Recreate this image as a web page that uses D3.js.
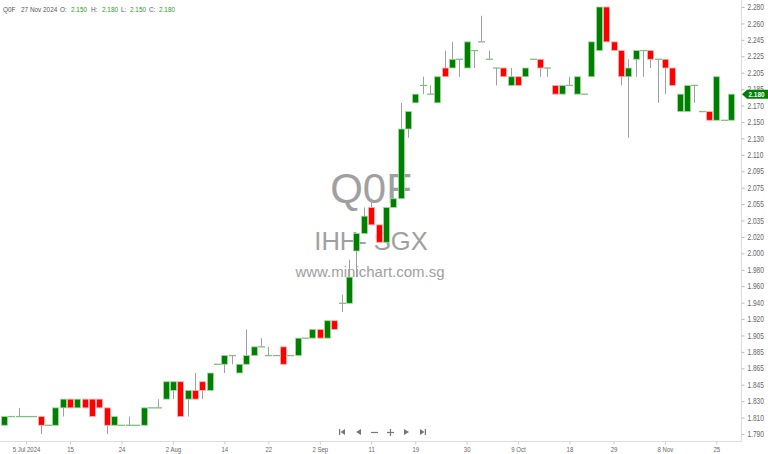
<!DOCTYPE html>
<html><head><meta charset="utf-8">
<script src="https://cdn.jsdelivr.net/npm/d3@7"></script>
<style>body{margin:0;background:#fff}svg{display:block}text{font-family:"Liberation Sans",Arial,sans-serif}</style>
</head><body><svg id="c" width="768" height="454"></svg>
<script>
const openV=[1.800,1.810,1.810,1.810,1.810,1.810,1.800,1.800,1.820,1.830,
1.820,1.830,1.830,1.830,1.820,1.800,1.800,1.800,1.800,1.800,
1.820,1.820,1.830,1.840,1.850,1.830,1.840,1.850,1.840,1.870,
1.870,1.880,1.860,1.870,1.880,1.890,1.880,1.880,1.890,1.880,
1.880,1.900,1.900,1.910,1.900,1.920,1.940,1.940,2.000,2.020,
2.050,2.030,2.010,2.050,2.060,2.140,2.170,2.190,2.180,2.170,
2.210,2.210,2.220,2.210,2.230,2.240,2.220,2.210,2.210,2.190,
2.200,2.200,2.220,2.220,2.210,2.190,2.180,2.190,2.180,2.180,
2.200,2.230,2.280,2.240,2.230,2.200,2.220,2.230,2.230,2.220,
2.220,2.210,2.160,2.160,2.190,2.160,2.160,2.150,2.150,2.150];
const closeV=[1.810,1.810,1.810,1.810,1.810,1.800,1.800,1.820,1.830,1.820,
1.830,1.820,1.810,1.820,1.800,1.810,1.800,1.800,1.800,1.820,
1.820,1.820,1.850,1.850,1.810,1.840,1.830,1.840,1.860,1.870,
1.880,1.880,1.870,1.880,1.890,1.890,1.880,1.880,1.870,1.880,
1.900,1.900,1.910,1.900,1.920,1.910,1.940,1.970,2.020,2.040,
2.030,2.010,2.050,2.060,2.140,2.160,2.180,2.190,2.180,2.200,
2.200,2.220,2.220,2.240,2.230,2.240,2.220,2.210,2.200,2.200,
2.190,2.210,2.220,2.210,2.210,2.180,2.190,2.190,2.200,2.180,
2.240,2.280,2.240,2.230,2.200,2.210,2.230,2.230,2.220,2.220,
2.210,2.190,2.180,2.190,2.190,2.160,2.150,2.200,2.150,2.180];
const highV=[1.810,1.810,1.820,1.810,1.810,1.810,1.800,1.820,1.830,1.830,
1.830,1.830,1.830,1.830,1.820,1.810,1.800,1.810,1.800,1.820,
1.820,1.830,1.850,1.850,1.850,1.840,1.860,1.850,1.860,1.870,
1.880,1.880,1.870,1.910,1.890,1.900,1.890,1.880,1.890,1.880,
1.900,1.900,1.910,1.910,1.920,1.920,1.950,1.990,2.020,2.050,
2.060,2.030,2.050,2.060,2.170,2.160,2.180,2.200,2.190,2.200,
2.230,2.240,2.220,2.240,2.230,2.270,2.230,2.210,2.210,2.210,
2.200,2.210,2.220,2.220,2.210,2.190,2.190,2.200,2.200,2.180,
2.240,2.280,2.280,2.240,2.230,2.220,2.230,2.230,2.230,2.220,
2.220,2.210,2.180,2.190,2.190,2.160,2.160,2.200,2.150,2.180];
const lowV=[1.800,1.810,1.810,1.810,1.810,1.790,1.800,1.800,1.810,1.820,
1.820,1.820,1.810,1.820,1.790,1.800,1.800,1.800,1.800,1.800,
1.820,1.820,1.830,1.830,1.810,1.810,1.830,1.830,1.840,1.870,
1.860,1.870,1.860,1.870,1.880,1.890,1.880,1.880,1.870,1.880,
1.880,1.900,1.900,1.900,1.900,1.910,1.930,1.940,1.970,2.020,
2.030,2.010,2.010,2.050,2.060,2.130,2.170,2.180,2.180,2.170,
2.200,2.210,2.200,2.210,2.210,2.240,2.220,2.190,2.200,2.190,
2.190,2.200,2.220,2.200,2.200,2.180,2.180,2.190,2.180,2.180,
2.200,2.230,2.240,2.230,2.190,2.130,2.200,2.200,2.210,2.170,
2.180,2.190,2.160,2.160,2.170,2.160,2.150,2.150,2.150,2.150];
const tickIdx=[3,9,16,23,30,36,43,50,56,63,70,77,83,90,97];
const tickLabels=["5 Jul 2024","15","24","2 Aug","14","22","2 Sep","11","19","30","9 Oct","18","29","8 Nov","25"];
const yLabels=["1.790","1.810","1.830","1.845","1.865","1.885","1.905","1.920","1.940","1.960","1.980","2.000","2.020","2.035","2.055","2.075","2.095","2.110","2.130","2.150","2.170","2.185","2.205","2.225","2.245","2.260","2.280"];
const header=[["Q0F","#555"],["27 Nov 2024","#555"],["O:","#555"],["2.150","#2a9a2a"],["H:","#555"],["2.180","#2a9a2a"],["L:","#555"],["2.150","#2a9a2a"],["C:","#555"],["2.180","#2a9a2a"]];
const headerX=[3,21,60,71,91,102,121,130,149,159];

const FF='"Liberation Sans",Arial,sans-serif';
function narrow(sel,f){sel.each(function(){const L=this.getComputedTextLength();d3.select(this).attr("textLength",L*f).attr("lengthAdjust","spacingAndGlyphs");});}

const svg=d3.select("#c");
const n=openV.length;
const x=d3.scaleLinear().domain([0,n-1]).range([4,731]);
const yMin=1.790,yMax=2.280;
const y=d3.scaleLinear().domain([yMin,yMax]).range([434,7]);
const data=openV.map((o,i)=>({i,o,c:closeV[i],h:highV[i],l:lowV[i]}));

// watermark
const wm=svg.append("g").attr("text-anchor","middle").attr("fill","#a0a0a0");
wm.append("text").attr("x",371).attr("y",203).attr("font-size",42).text("Q0F");
wm.append("text").attr("x",371).attr("y",250).attr("font-size",25.5).text("IHH- SGX");
wm.append("text").attr("x",370).attr("y",277).attr("font-size",15).text("www.minichart.com.sg");

// axes lines
svg.append("line").attr("x1",0).attr("x2",742).attr("y1",441.5).attr("y2",441.5).attr("stroke","#ddd");
svg.append("line").attr("x1",741.5).attr("x2",741.5).attr("y1",0).attr("y2",442).attr("stroke","#ddd");

// right axis
const yTickVals=yLabels.map((d,i)=>yMin+i*(yMax-yMin)/(yLabels.length-1));
const ya=svg.append("g").attr("transform","translate(741.5,0)")
 .call(d3.axisRight(y).tickValues(yTickVals).tickFormat((d,i)=>yLabels[i]).tickSize(3).tickPadding(3));
ya.select(".domain").remove();
ya.selectAll("line").attr("stroke","#bbb");
ya.selectAll("text").attr("fill","#666").attr("font-size",8.2).style("font-family",FF);
narrow(ya.selectAll("text"),0.8);

// bottom axis
const xa=svg.append("g").attr("transform","translate(0,441.5)")
 .call(d3.axisBottom(x).tickValues(tickIdx).tickFormat((d,i)=>tickLabels[i]).tickSize(3).tickPadding(2));
xa.select(".domain").remove();
xa.selectAll("line").attr("stroke","#ccc");
xa.selectAll("text").attr("fill","#666").attr("font-size",7.5).style("font-family",FF);
narrow(xa.selectAll("text"),0.8);

// candles
const g=svg.append("g");
g.selectAll(".wick").data(data.filter(d=>d.h>d.l)).join("line")
 .attr("x1",d=>Math.round(x(d.i))+0.5).attr("x2",d=>Math.round(x(d.i))+0.5)
 .attr("y1",d=>y(d.h)).attr("y2",d=>y(d.l)).attr("stroke","#a0a0a0").attr("stroke-width",1);
g.selectAll(".body").data(data.filter(d=>d.o!==d.c)).join("rect")
 .attr("x",d=>Math.round(x(d.i))-2.5).attr("width",6)
 .attr("y",d=>y(Math.max(d.o,d.c))).attr("height",d=>y(Math.min(d.o,d.c))-y(Math.max(d.o,d.c)))
 .attr("fill",d=>d.c>d.o?"#008000":"#ff0000")
 .attr("stroke",d=>d.c>d.o?"#a6d8a6":"#ffb3b3").attr("stroke-width",0.8);
g.selectAll(".doji").data(data.filter(d=>d.o===d.c)).join("line")
 .attr("x1",d=>Math.round(x(d.i))-3).attr("x2",d=>Math.round(x(d.i))+4)
 .attr("y1",d=>y(d.c)).attr("y2",d=>y(d.c)).attr("stroke","#7fbf7f").attr("stroke-width",1.3);

// last price tag
const last=closeV[n-1];
const ty=y(last);
svg.append("path").attr("d",`M742,${ty} L747,${ty-4.5} L768,${ty-4.5} L768,${ty+4.5} L747,${ty+4.5} Z`).attr("fill","#008000");
const tt=svg.append("text").attr("x",748.5).attr("y",ty+3).attr("fill","#fff").attr("font-size",8).attr("font-weight","bold").text(last.toFixed(3));
narrow(tt,0.8);

// header
header.forEach((h,i)=>{
 svg.append("text").attr("x",headerX[i]).attr("y",11.5).attr("font-size",6.4).attr("fill",h[1]).text(h[0]);
});

// nav controls
const nav=svg.append("g").attr("fill","#777").attr("stroke","#777");
const cy=432;
nav.append("rect").attr("x",339).attr("y",cy-3).attr("width",1.2).attr("height",6).attr("stroke","none");
nav.append("path").attr("d",`M345,${cy-3} L340.5,${cy} L345,${cy+3} Z`).attr("stroke","none");
nav.append("path").attr("d",`M361,${cy-3} L356,${cy} L361,${cy+3} Z`).attr("stroke","none");
nav.append("line").attr("x1",371).attr("x2",378).attr("y1",cy+0.5).attr("y2",cy+0.5).attr("stroke-width",1.2);
nav.append("line").attr("x1",387).attr("x2",394).attr("y1",cy+0.5).attr("y2",cy+0.5).attr("stroke-width",1.2);
nav.append("line").attr("x1",390.5).attr("x2",390.5).attr("y1",cy-3).attr("y2",cy+4).attr("stroke-width",1.2);
nav.append("path").attr("d",`M404,${cy-3} L409,${cy} L404,${cy+3} Z`).attr("stroke","none");
nav.append("path").attr("d",`M420,${cy-3} L424.5,${cy} L420,${cy+3} Z`).attr("stroke","none");
nav.append("rect").attr("x",424.8).attr("y",cy-3).attr("width",1.2).attr("height",6).attr("stroke","none");
</script></body></html>
